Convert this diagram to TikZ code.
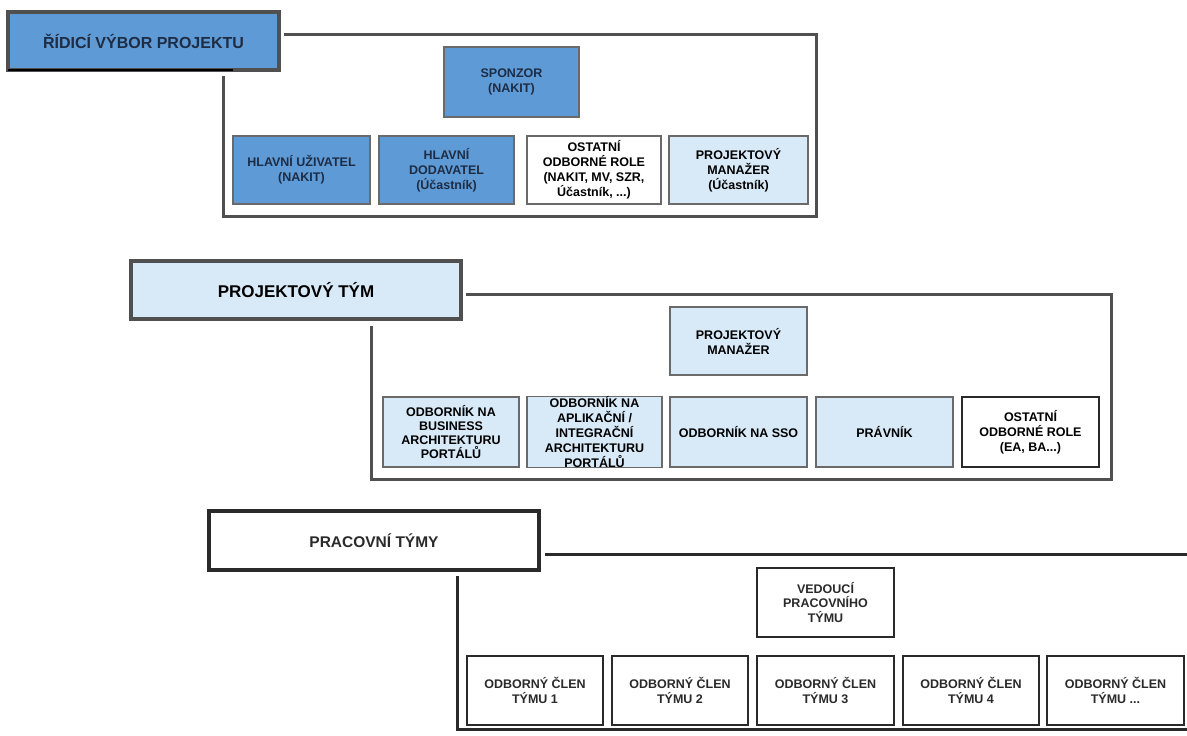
\documentclass[tikz,border=0pt]{standalone}
\usepackage{fontspec}
\setmainfont{Liberation Sans}
\definecolor{midblue}{HTML}{5E9AD5}
\definecolor{paleblue}{HTML}{D8EAF8}
\definecolor{navytext}{HTML}{1E2C44}
\definecolor{boxline}{HTML}{6A6A6A}
\definecolor{frameline}{HTML}{505050}
\definecolor{darkline}{HTML}{2A2A2A}
\tikzset{
  box/.style={draw=boxline, line width=1.3pt, inner sep=0pt, align=center,
    font=\bfseries\fontsize{12.5}{15}\selectfont},
  midbox/.style={box, fill=midblue, text=navytext},
  palebox/.style={box, fill=paleblue, text=black},
  whitebox/.style={box, fill=white, text=black},
  teambox/.style={box, draw=darkline, line width=1.8pt, fill=white, text=darkline},
  titlebox/.style={draw=frameline, line width=3.2pt, inner sep=0pt, align=center,
    font=\bfseries\fontsize{16}{19}\selectfont},
  frame/.style={draw=frameline, line width=3pt, line cap=rect},
  darkframe/.style={draw=darkline, line width=3pt, line cap=rect},
}
\begin{document}
\begin{tikzpicture}[x=1pt,y=1pt]
\useasboundingbox (0,0) rectangle (1187,-736);
\fill[white] (0,0) rectangle (1187,-736);

% ---------- Řídicí výbor projektu ----------
\node[titlebox, fill=midblue, text=navytext, minimum width=271pt, minimum height=58pt]
  (t1) at (143.5,-41) {ŘÍDICÍ VÝBOR PROJEKTU};
\draw[black, line width=2pt] (8,-70) -- (233,-70);
\coordinate (f1s) at (285,-34);
\coordinate (f1e) at (223,-77);
\draw[frame] (f1s) -| (816,-216) -| (f1e);

\node[midbox, minimum width=135pt, minimum height=70pt] (sponzor) at (511.5,-82) {SPONZOR\\(NAKIT)};
\node[midbox, minimum width=137pt, minimum height=68pt] (hu) at (301.5,-170) {HLAVNÍ UŽIVATEL\\(NAKIT)};
\node[midbox, minimum width=135pt, minimum height=68pt] (hd) at (446.5,-170) {HLAVNÍ\\DODAVATEL\\(Účastník)};
\node[whitebox, minimum width=134pt, minimum height=68pt] (os1) at (594,-170) {OSTATNÍ\\ODBORNÉ ROLE\\(NAKIT, MV, SZR,\\Účastník, ...)};
\node[palebox, minimum width=139pt, minimum height=68pt] (pm1) at (738.5,-170) {PROJEKTOVÝ\\MANAŽER\\(Účastník)};

% ---------- Projektový tým ----------
\node[titlebox, fill=paleblue, text=black, font=\bfseries\fontsize{17}{20}\selectfont,
  minimum width=330pt, minimum height=58pt] (t2) at (296,-290) {PROJEKTOVÝ TÝM};
\coordinate (f2s) at (467,-294);
\coordinate (f2e) at (371,-327);
\draw[frame] (f2s) -| (1111,-479) -| (f2e);

\node[palebox, minimum width=137pt, minimum height=68pt] (pm2) at (738.5,-341) {PROJEKTOVÝ\\MANAŽER};
\node[palebox, font=\bfseries\fontsize{12.5}{14}\selectfont, minimum width=136pt, minimum height=70pt]
  (b1) at (451,-432) {ODBORNÍK NA\\BUSINESS\\ARCHITEKTURU\\PORTÁLŮ};
\node[palebox, minimum width=135pt, minimum height=70pt]
  (b2) at (594.5,-432) {ODBORNÍK NA\\APLIKAČNÍ /\\INTEGRAČNÍ\\ARCHITEKTURU\\PORTÁLŮ};
\node[palebox, minimum width=137pt, minimum height=70pt] (b3) at (738.5,-432) {ODBORNÍK NA SSO};
\node[palebox, minimum width=137pt, minimum height=70pt] (b4) at (884.5,-432) {PRÁVNÍK};
\node[whitebox, draw=darkline, minimum width=137pt, minimum height=70pt] (b5) at (1030.5,-432) {OSTATNÍ\\ODBORNÉ ROLE\\(EA, BA...)};

% ---------- Pracovní týmy ----------
\node[titlebox, draw=darkline, line width=4pt, fill=white, text=darkline,
  font=\bfseries\fontsize{15.5}{18}\selectfont,
  minimum width=330pt, minimum height=59pt] (t3) at (374,-540.5) {PRACOVNÍ TÝMY};
\coordinate (f3s) at (546,-554);
\coordinate (f3r) at (1190,-554);
\coordinate (f3b) at (1190,-729);
\coordinate (f3e) at (457,-577);
\draw[darkframe] (f3s) -- (f3r);
\draw[darkframe] (f3b) -| (f3e);

\node[teambox, font=\bfseries\fontsize{12.5}{14.7}\selectfont, minimum width=137pt, minimum height=69pt]
  (lead) at (825.5,-602.5) {VEDOUCÍ\\PRACOVNÍHO\\TÝMU};
\node[teambox, font=\bfseries\fontsize{12.5}{15.7}\selectfont, minimum width=136pt, minimum height=69pt] (m1) at (535,-690.5) {ODBORNÝ ČLEN\\TÝMU 1};
\node[teambox, font=\bfseries\fontsize{12.5}{15.7}\selectfont, minimum width=136pt, minimum height=69pt] (m2) at (680,-690.5) {ODBORNÝ ČLEN\\TÝMU 2};
\node[teambox, font=\bfseries\fontsize{12.5}{15.7}\selectfont, minimum width=137pt, minimum height=69pt] (m3) at (825.5,-690.5) {ODBORNÝ ČLEN\\TÝMU 3};
\node[teambox, font=\bfseries\fontsize{12.5}{15.7}\selectfont, minimum width=136pt, minimum height=69pt] (m4) at (971,-690.5) {ODBORNÝ ČLEN\\TÝMU 4};
\node[teambox, font=\bfseries\fontsize{12.5}{15.7}\selectfont, minimum width=137pt, minimum height=69pt] (m5) at (1115.5,-690.5) {ODBORNÝ ČLEN\\TÝMU ...};
\end{tikzpicture}
\end{document}
